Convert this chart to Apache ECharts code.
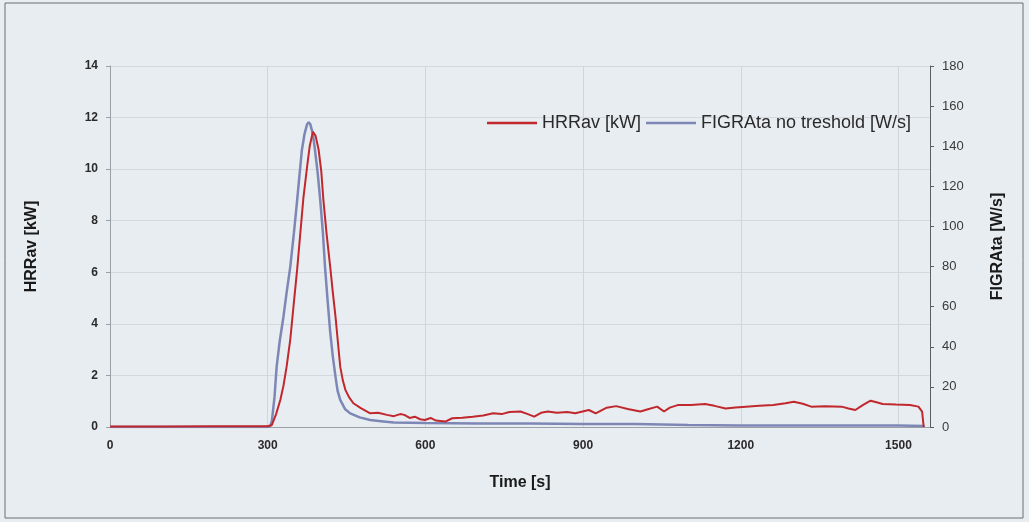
<!DOCTYPE html>
<html><head><meta charset="utf-8">
<script src="https://cdn.jsdelivr.net/npm/echarts@6/dist/echarts.min.js"></script>
<style>html,body{margin:0;padding:0;background:#e8edf1;}#c{width:1029px;height:522px;}</style>
</head><body><div id="c"></div>
<script>
const hrrTime = [0,100,200,300,308,316,324,330,336,343,349,356,362,368,375,380,386,391,397,402,406,412,419,424,429,434,438,443,448,455,463,478,495,510,527,540,552,560,570,580,590,599,610,620,638,651,670,690,710,729,745,760,781,795,807,820,833,850,870,885,911,924,945,963,985,1009,1025,1041,1054,1065,1080,1105,1132,1150,1171,1190,1210,1235,1262,1285,1301,1318,1334,1360,1392,1405,1418,1432,1447,1460,1470,1495,1522,1538,1545,1548];
const hrrVals = [0.02,0.02,0.03,0.03,0.08,0.5,1.05,1.6,2.34,3.4,4.66,6.1,7.5,8.9,10.1,10.9,11.45,11.3,10.74,9.9,8.8,7.5,6.2,5.2,4.28,3.2,2.34,1.8,1.43,1.15,0.92,0.72,0.53,0.55,0.47,0.42,0.5,0.47,0.35,0.4,0.3,0.27,0.35,0.25,0.21,0.34,0.36,0.4,0.45,0.53,0.5,0.58,0.6,0.5,0.4,0.55,0.6,0.55,0.58,0.53,0.66,0.53,0.75,0.81,0.7,0.6,0.7,0.79,0.6,0.75,0.85,0.85,0.89,0.82,0.72,0.76,0.79,0.82,0.85,0.92,0.98,0.9,0.79,0.8,0.79,0.72,0.66,0.85,1.02,0.95,0.89,0.87,0.85,0.79,0.6,0];
const figTime = [0,300,305,308,313,317,323,330,336,343,350,356,361,365,370,375,378,381,386,390,395,400,405,409,414,419,424,429,433,438,447,457,475,495,520,540,600,700,800,900,1000,1100,1200,1300,1400,1500,1550];
const figVals = [0,0,0.5,3,15,30,43,55,67,80,97,113,127,138,146,151,152,151,146,138,127,113,97,80,63,47,35,25,18,13.5,9,6.8,4.8,3.5,2.8,2.2,2,1.8,1.8,1.5,1.5,1,0.8,0.8,0.8,0.8,0.5];
const xTicks = [0,300,600,900,1200,1500];
const leftTicks = [0,2,4,6,8,10,12,14];
const rightTicks = [0,20,40,60,80,100,120,140,160,180];

const chart = echarts.init(document.getElementById('c'));
const font = 'Liberation Sans, Arial, sans-serif';
chart.setOption({
  backgroundColor: '#e8edf1',
  animation: false,
  textStyle: {fontFamily: font},
  graphic: [{type:'rect', shape:{x:5,y:3,width:1018,height:515}, style:{fill:'none', stroke:'#6b6f73', lineWidth:1}}],
  grid: {left:110, right:99, top:66, bottom:95},
  legend: {
    left: 482, top: 109, itemWidth: 50, itemHeight: 2.5, itemGap: 5, icon: 'rect',
    textStyle: {fontFamily: font, fontSize: 18, color: '#2a2a2a'},
    data: ['HRRav [kW]', 'FIGRAta no treshold [W/s]']
  },
  xAxis: {
    type: 'value', min: 0, max: 1560, interval: 300,
    name: 'Time [s]', nameLocation: 'middle', nameGap: 48,
    nameTextStyle: {fontFamily: font, fontSize: 16, fontWeight: 'bold', color: '#1a1a1a'},
    axisLine: {show: true, lineStyle: {color: '#9aa0a6'}},
    axisTick: {show: false},
    axisLabel: {fontFamily: font, fontSize: 12, fontWeight: 'bold', color: '#2a2a2a', margin: 13, showMaxLabel: false,
      formatter: v => xTicks.includes(v) ? String(v) : ''},
    splitLine: {show: true, lineStyle: {color: '#cfd6dc', width: 1}}
  },
  yAxis: [{
    type: 'value', min: leftTicks[0], max: leftTicks[leftTicks.length-1], interval: 2,
    name: 'HRRav [kW]', nameLocation: 'middle', nameGap: 70, nameRotate: 90,
    nameTextStyle: {fontFamily: font, fontSize: 16, fontWeight: 'bold', color: '#1a1a1a'},
    axisLine: {show: true, lineStyle: {color: '#9aa0a6'}},
    axisTick: {show: true, inside: false, length: 4, lineStyle: {color: '#9aa0a6'}},
    axisLabel: {fontFamily: font, fontSize: 12, fontWeight: 'bold', color: '#2a2a2a', margin: 12},
    splitLine: {show: true, lineStyle: {color: '#d3d9de', width: 1}}
  }, {
    type: 'value', min: rightTicks[0], max: rightTicks[rightTicks.length-1], interval: 20, position: 'right',
    name: 'FIGRAta [W/s]', nameLocation: 'middle', nameGap: 60, nameRotate: 90,
    nameTextStyle: {fontFamily: font, fontSize: 16, fontWeight: 'bold', color: '#1a1a1a'},
    axisLine: {show: true, lineStyle: {color: '#5a5f64'}},
    axisTick: {show: true, inside: false, length: 4, lineStyle: {color: '#5a5f64'}},
    axisLabel: {fontFamily: font, fontSize: 13, color: '#3a3a3a', margin: 12},
    splitLine: {show: false}
  }],
  series: [{
    name: 'HRRav [kW]', type: 'line', yAxisIndex: 0, symbol: 'none',
    lineStyle: {color: '#c0282d', width: 2}, itemStyle: {color: '#c0282d'},
    data: hrrTime.map((t,i) => [t, hrrVals[i]]), z: 3
  }, {
    name: 'FIGRAta no treshold [W/s]', type: 'line', yAxisIndex: 1, symbol: 'none',
    lineStyle: {color: '#7d87b6', width: 2.5}, itemStyle: {color: '#7d87b6'},
    data: figTime.map((t,i) => [t, figVals[i]]), z: 2
  }]
});
</script></body></html>
